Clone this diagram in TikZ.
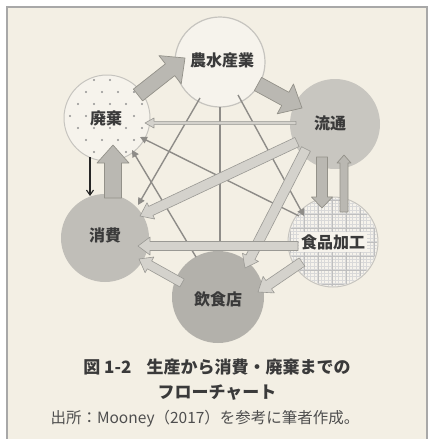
\documentclass[tikz,border=0pt]{standalone}
\usepackage{fontspec}
\setmainfont{Noto Sans CJK JP}
\usetikzlibrary{calc,arrows.meta}
\definecolor{bg}{HTML}{F3EFE4}
\definecolor{frame}{HTML}{A8A8A8}
\definecolor{lightc}{HTML}{F6F3EC}
\definecolor{rimc}{HTML}{C6C4BF}
\definecolor{grayA}{HTML}{C8C6C0}
\definecolor{grayB}{HTML}{C0BEB8}
\definecolor{grayC}{HTML}{B3B1AB}
\definecolor{blkfill}{HTML}{BAB8B2}
\definecolor{blkline}{HTML}{939189}
\definecolor{bandfill}{HTML}{D4D2CC}
\definecolor{bandline}{HTML}{9A9994}
\definecolor{thinc}{HTML}{8E8C88}
\definecolor{txt}{HTML}{3A3A3A}
\newcommand\blkarrow[6]{%
  \coordinate (bP) at (#2);
  \coordinate (bQ) at (#3);
  \coordinate (bH) at ($(bQ)!#6!(bP)$);
  \filldraw[#1] ($(bP)!#4!90:(bQ)$) -- ($(bH)!#4!90:(bQ)$) -- ($(bH)!#5!90:(bQ)$) -- (bQ) -- ($(bH)!#5!-90:(bQ)$) -- ($(bH)!#4!-90:(bQ)$) -- ($(bP)!#4!-90:(bQ)$) -- cycle;}
\tikzset{
  circ/.style={circle, inner sep=0pt, outer sep=0pt},
  blk/.style={fill=blkfill, draw=blkline, line width=0.7pt, line join=round},
  band/.style={fill=bandfill, draw=bandline, line width=0.6pt, line join=round},
  thinline/.style={draw=thinc, line width=1.4pt, -{Triangle[length=7pt,width=7pt]}},
  lbl/.style={text=txt, font=\bfseries\fontsize{16}{16}\selectfont, inner sep=1pt},
}
\begin{document}
\begin{tikzpicture}[x=1pt,y=1pt]
\useasboundingbox (0,0) rectangle (430,-439);
\fill[white] (0,0) rectangle (430,-439);
\fill[bg] (7,-7) rectangle (427,-439);
\draw[frame, line width=1.8pt] (7,-439) -- (7,-7) -- (427,-7) -- (427,-439);
% circles
\node[circ, minimum size=90pt, fill=lightc, draw=rimc, line width=1.2pt] (A) at (220,-62) {};
\node[circ, minimum size=86pt, fill=lightc, draw=rimc, line width=1pt] (W) at (107,-118) {};
\node[circ, minimum size=90pt, fill=grayA] (D) at (335,-124) {};
\node[circ, minimum size=88pt, fill=grayB] (C) at (105,-238) {};
\node[circ, minimum size=90pt, fill=lightc, draw=rimc, line width=1pt] (F) at (333,-242) {};
\node[circ, minimum size=92pt, fill=grayC] (R) at (218,-297) {};
% dot pattern
\begin{scope}
\clip (W.center) circle (41);
\foreach \j in {0,...,7}{
  \foreach \i in {0,...,6}{
    \pgfmathsetmacro{\xx}{62+16*\i+8*mod(\j,2)}
    \pgfmathsetmacro{\yy}{-80-12*\j}
    \fill[gray!85] (\xx,\yy) circle (1.1);
  }
}
\end{scope}
% grid pattern
\begin{scope}
\clip (F.center) circle (44);
\foreach \k in {0,...,26}{
  \draw[gray!30, line width=0.3pt] (286+3.5*\k,-196) -- (286+3.5*\k,-288);
  \draw[gray!30, line width=0.3pt] (286,-196-3.5*\k) -- (380,-196-3.5*\k);
}
\foreach \k in {0,...,6}{
  \draw[gray!50, line width=0.5pt] (290+14*\k,-196) -- (290+14*\k,-288);
  \draw[gray!50, line width=0.5pt] (286,-200-14*\k) -- (380,-200-14*\k);
}
\end{scope}
% thin lines
\draw[thinline] ($(A.center)+(-20,-36)$) -- ($(C.center)+(33,33)$);
\draw[thinline] ($(A.center)+(0,-45)$) -- ($(R.center)+(2,46)$);
\draw[thinline] ($(A.center)+(18,-33)$) -- ($(F.center)+(-29,26)$);
\draw[thinline] ($(F.center)+(-34,26)$) -- ($(W.center)+(33,-19)$);
\draw[thinline] ($(R.center)+(-22,40)$) -- ($(W.center)+(25,-32)$);
\blkarrow{band}{$(D.center)+(-39,1)$}{$(W.center)+(38,-5)$}{1.6pt}{5pt}{9pt}
% bands
\blkarrow{band}{$(D.center)+(-38,-18)$}{$(C.center)+(35,22)$}{5pt}{9pt}{12pt}
\blkarrow{band}{$(D.center)+(-29,-25)$}{$(R.center)+(27,29)$}{5pt}{9pt}{12pt}
\blkarrow{band}{$(F.center)+(-35,-4)$}{$(C.center)+(33,-8)$}{4.5pt}{9pt}{12pt}
\blkarrow{band}{$(R.center)+(-36,14)$}{$(C.center)+(34,-21)$}{4.5pt}{9pt}{12pt}
\blkarrow{band}{$(F.center)+(-31,-20)$}{$(R.center)+(40,5)$}{5pt}{10pt}{13pt}
% block arrows
\blkarrow{blk}{$(W.center)+(31,23)$}{$(A.center)+(-35,4)$}{7.5pt}{18pt}{19pt}
\blkarrow{blk}{$(A.center)+(38,-22)$}{$(D.center)+(-33,16)$}{7.5pt}{17pt}{19pt}
\blkarrow{blk}{$(D.center)+(-13,-33)$}{$(F.center)+(-11,34)$}{5.5pt}{10.5pt}{11pt}
\blkarrow{blk}{$(F.center)+(11,30)$}{$(D.center)+(9,-31)$}{4pt}{7pt}{8pt}
\blkarrow{blk}{$(C.center)+(8,40)$}{$(W.center)+(6,-27)$}{8.5pt}{16pt}{18pt}
\draw[black!85, line width=1.1pt, -{Straight Barb[length=5pt,width=7pt]}] ($(W.center)+(-17,-39)$) -- ($(C.center)+(-15,42)$);
% labels
\node[lbl] (At) at (222,-60) {農水産業};
\node[lbl] (Wt) at (106,-118) {廃棄};
\node[lbl] (Dt) at (330,-123) {流通};
\node[lbl] (Ct) at (105,-235) {消費};
\node[lbl, fill=lightc, inner sep=2pt] (Ft) at (333,-242) {食品加工};
\node[lbl] (Rt) at (218,-299) {飲食店};
% caption
\node[text=txt, font=\bfseries\fontsize{17}{17}\selectfont] (cap1) at (217,-367) {図 1-2\hspace{0.9em}生産から消費・廃棄までの};
\node[text=txt, font=\bfseries\fontsize{17}{17}\selectfont] (cap2) at (217,-393) {フローチャート};
\node[text=txt!90, font=\fontsize{15.5}{15.5}\selectfont] (src) at (205,-419) {出所：Mooney（2017）を参考に筆者作成。};
\end{tikzpicture}
\end{document}
